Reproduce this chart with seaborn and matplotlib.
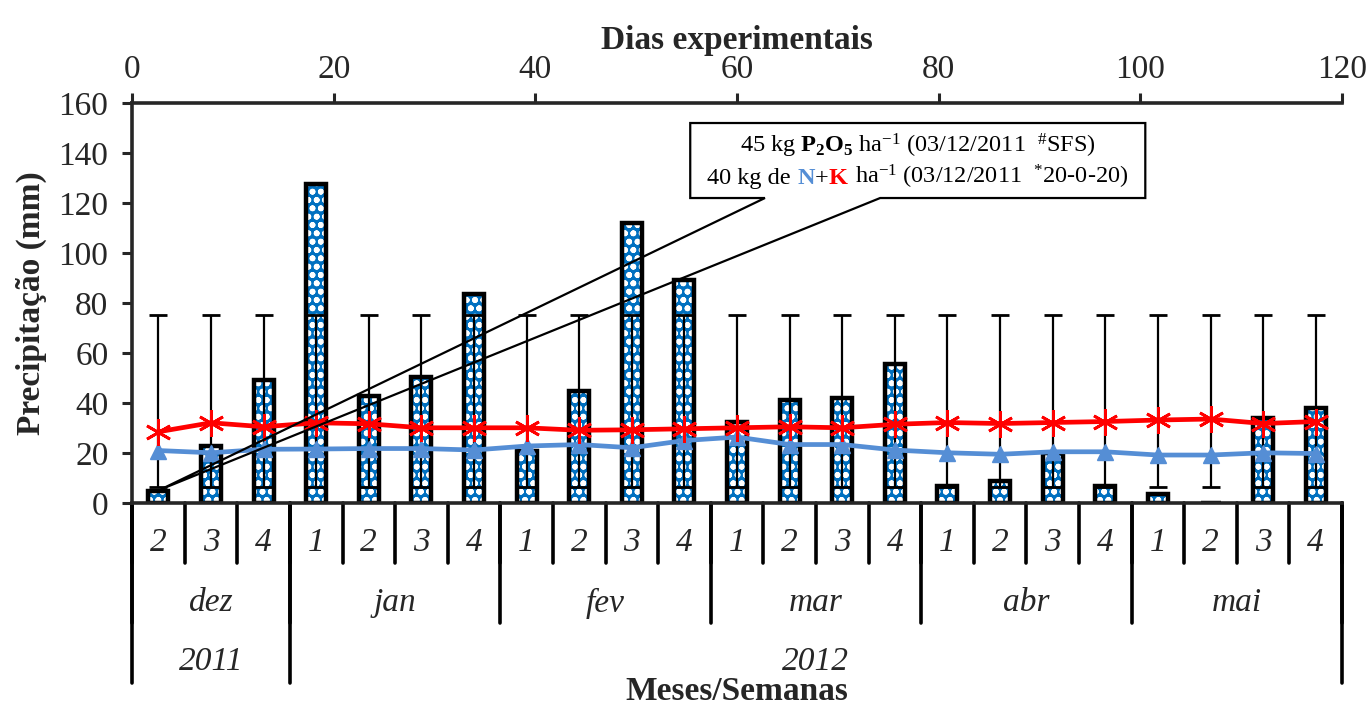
# Precipitação semanal e temperaturas - dez/2011 a mai/2012
import numpy as np
import pandas as pd
import matplotlib.pyplot as plt
import seaborn as sns
from matplotlib.patches import Polygon
from matplotlib.offsetbox import TextArea, HPacker, VPacker, AnnotationBbox, DrawingArea

# Dados
semanas = ["2", "3", "4", "1", "2", "3", "4", "1", "2", "3", "4", "1", "2", "3", "4",
           "1", "2", "3", "4", "1", "2", "3", "4"]
meses = ["dez", "jan", "fev", "mar", "abr", "mai"]
semanas_por_mes = [3, 4, 4, 4, 4, 4]
anos = ["2011", "2012"]
semanas_por_ano = [3, 20]

precipitacao = [4.7, 22.8, 49.1, 127.5, 42.8, 50.5, 83.7, 20.8, 44.9, 112.0, 89.3, 32.4,
                41.1, 42.2, 55.6, 6.7, 8.7, 20.1, 7.0, 3.6, 0.0, 34.2, 37.9]
serie_vermelha = [28.5, 32.1, 30.5, 32.1, 31.7, 30.1, 30.1, 30.1, 29.1, 29.3, 29.7, 30.1,
                  30.5, 30.1, 31.5, 32.2, 31.8, 32.2, 32.6, 33.2, 33.6, 31.8, 32.6]
serie_azul = [21.0, 20.1, 21.5, 21.6, 21.8, 21.8, 21.2, 22.8, 23.4, 22.1, 25.0, 26.4,
              23.4, 23.4, 21.2, 20.1, 19.5, 20.5, 20.5, 19.2, 19.2, 20.1, 19.8]
erro_inf = [6.4, 6.4, 6.4, 6.4, 6.4, 6.4, 6.4, 6.4, 6.4, 6.4, 6.4, 6.4,
            6.4, 6.4, 6.4, 6.4, 6.4, 6.4, 6.4, 6.4, 6.4, 6.4, 6.4]
erro_sup = [75.3, 75.3, 75.3, 75.3, 75.3, 75.3, 75.3, 75.3, 75.3, 75.3, 75.3, 75.3,
            75.3, 75.3, 75.3, 75.3, 75.3, 75.3, 75.3, 75.3, 75.3, 75.3, 75.3]
dias_ticks = [0, 20, 40, 60, 80, 100, 120]

df = pd.DataFrame({"pos": np.arange(len(semanas)), "semana": semanas,
                   "prec": precipitacao, "verm": serie_vermelha, "azul": serie_azul})

sns.set_style("ticks")
plt.rcParams["font.family"] = ["Liberation Serif", "DejaVu Serif"]
plt.rcParams["mathtext.fontset"] = "custom"
plt.rcParams["mathtext.rm"] = "Liberation Serif"
plt.rcParams["mathtext.it"] = "Liberation Serif:italic"
plt.rcParams["mathtext.bf"] = "Liberation Serif:bold"
plt.rcParams["hatch.linewidth"] = 1.8

fs = 24  # tamanho de fonte dos eixos

fig = plt.figure(figsize=(13.7, 7.08), dpi=100)
ax = fig.add_axes([0.0964, 0.2895, 0.8832, 0.565])

# Barras com padrão de círculos + contorno preto
sns.barplot(data=df, x="pos", y="prec", color="#0070C0", saturation=1, width=0.38,
            edgecolor="white", linewidth=0, hatch="oo", errorbar=None, ax=ax, zorder=1)
sns.barplot(data=df, x="pos", y="prec", fill=False, width=0.38, edgecolor="black",
            linewidth=3.2, errorbar=None, ax=ax, zorder=1.5)

# Barras de erro
lo = np.array(erro_inf)
hi = np.array(erro_sup)
ax.errorbar(df["pos"], lo, yerr=[np.zeros_like(lo), hi - lo], fmt="none", ecolor="black",
            elinewidth=1.6, capsize=6.5, capthick=2, zorder=2.5)

# Linhas
sns.lineplot(data=df, x="pos", y="verm", color="#FF0000", lw=3.4, marker=(6, 2, 0),
             markersize=19, markeredgecolor="#FF0000", markeredgewidth=2, ax=ax, zorder=4)
sns.lineplot(data=df, x="pos", y="azul", color="#558ED5", lw=3.4, marker="^",
             markersize=11, markeredgecolor="#558ED5", markeredgewidth=1, ax=ax, zorder=3)

ax.set_xlim(-0.5, len(semanas) - 0.5)
ax.set_ylim(0, 160)
ax.set_yticks(range(0, 161, 20))
ax.set_xticks([])
ax.set_xlabel("")
ax.set_ylabel("Precipitação (mm)", fontsize=fs, fontweight="bold", labelpad=8)
ax.tick_params(axis="y", direction="out", length=7, width=2.2, labelsize=fs, pad=10)
for lado in ["right", "top"]:
    ax.spines[lado].set_visible(False)
for lado in ["left", "bottom"]:
    ax.spines[lado].set_linewidth(2.6)

# Eixo superior (dias experimentais)
ax2 = ax.twiny()
ax2.set_xlim(0, 120)
ax2.set_xticks(dias_ticks)
ax2.tick_params(axis="x", direction="out", length=7, width=2.2, labelsize=fs, pad=6)
ax2.set_xlabel("Dias experimentais", fontsize=fs, fontweight="bold", labelpad=4)
for lado in ["right", "left", "bottom"]:
    ax2.spines[lado].set_visible(False)
ax2.spines["top"].set_linewidth(2.6)

# Eixo categórico em três níveis
trans = ax.get_xaxis_transform()
for i, s in enumerate(semanas):
    ax.text(i, -0.1, s, transform=trans, ha="center", va="center", fontsize=fs, style="italic")
for i in range(len(semanas) + 1):
    ax.plot([i - 0.5, i - 0.5], [0, -0.15], transform=trans, clip_on=False, color="black", lw=2.6)

ini = -0.5
for m, n in zip(meses, semanas_por_mes):
    ax.text(ini + n / 2, -0.25, m, transform=trans, ha="center", va="center",
            fontsize=fs, style="italic")
    ax.plot([ini, ini], [0, -0.30], transform=trans, clip_on=False, color="black", lw=2.6)
    ini += n
ax.plot([ini, ini], [0, -0.30], transform=trans, clip_on=False, color="black", lw=2.6)

ini = -0.5
for a, n in zip(anos, semanas_por_ano):
    ax.text(ini + n / 2, -0.3975, a, transform=trans, ha="center", va="center",
            fontsize=fs, style="italic")
    ax.plot([ini, ini], [0, -0.45], transform=trans, clip_on=False, color="black", lw=2.6)
    ini += n
ax.plot([ini, ini], [0, -0.45], transform=trans, clip_on=False, color="black", lw=2.6)

ax.text(0.5, -0.472, "Meses/Semanas", transform=ax.transAxes, ha="center", va="center",
        fontsize=fs, fontweight="bold")

# Caixa de anotação (adubação)
caixa = Polygon([(11.53, 122), (10.11, 122), (10.11, 152), (18.76, 152), (18.76, 122),
                 (13.72, 122), (0.05, 5.5)], closed=True, fill=False, edgecolor="black",
                lw=1.6, zorder=5)
ax.add_patch(caixa)

tam = 17.5
linha1 = TextArea(r"45 kg $\mathbf{P_2O_5}$ ha$^{-1}$ (03/12/2011  $^{\#}$SFS)",
                  textprops=dict(fontsize=tam, color="black"))
linha2 = HPacker(children=[
    TextArea("40 kg de", textprops=dict(fontsize=tam, color="black")),
    DrawingArea(5, 1),
    TextArea("N", textprops=dict(fontsize=tam, color="#558ED5", fontweight="bold")),
    TextArea("+", textprops=dict(fontsize=tam, color="black")),
    TextArea("K", textprops=dict(fontsize=tam, color="#FF0000", fontweight="bold")),
    DrawingArea(5, 1),
    TextArea(r"ha$^{-1}$ (03/12/2011  $^{*}$20-0-20)", textprops=dict(fontsize=tam, color="black")),
], sep=0, align="baseline")
bloco = VPacker(children=[linha1, linha2], sep=2, align="center")
ab = AnnotationBbox(bloco, (14.43, 136.5), xycoords="data", frameon=False,
                    box_alignment=(0.5, 0.5), zorder=6)
ax.add_artist(ab)

plt.savefig("out.png", dpi=100)
